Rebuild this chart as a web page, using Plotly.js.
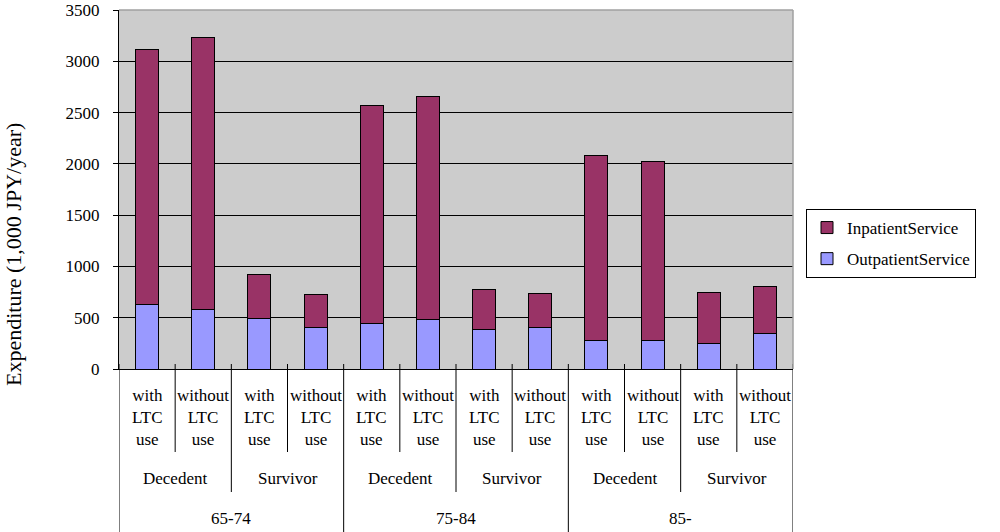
<!DOCTYPE html>
<html>
<head>
<meta charset="utf-8">
<script src="https://cdn.plot.ly/plotly-3.0.1.min.js"></script>
<style>html,body{margin:0;padding:0;background:#fff;}#chart{width:1000px;height:532px;}</style>
</head>
<body>
<div id="chart"></div>
<script>
// ---- data ----
var ageGroups = ['65-74', '75-84', '85-'];
var statusGroups = ['Decedent', 'Survivor'];
var ltcLabels = ['with<br>LTC<br>use', 'without<br>LTC<br>use'];
var outpatient = [633, 585, 494, 408, 440, 485, 382, 408, 276, 276, 247, 350];
var inpatient  = [2482, 2645, 428, 321, 2132, 2171, 395, 331, 1808, 1747, 501, 459];
var seriesNames = ['OutpatientService', 'InpatientService'];
var yTicks = [0, 500, 1000, 1500, 2000, 2500, 3000, 3500];

// ---- build ----
var FONT = 'Liberation Serif, Times New Roman, serif';
var TOP = 10, BOTTOM = 163;
var H = 532 - TOP - BOTTOM; // plot height in px, for pixel→paper conversions
function py(px) { return (369 - px) / H; }

var xIdx = outpatient.map(function (_, i) { return i; });

var traces = [
  { type: 'bar', name: seriesNames[0], legendgroup: 'g0', legendrank: 2, x: xIdx, y: outpatient,
    marker: { color: '#9999FF', line: { color: '#000', width: 1 } } },
  { type: 'bar', name: seriesNames[1], legendgroup: 'g1', legendrank: 1, x: xIdx, y: inpatient,
    marker: { color: '#993366', line: { color: '#000', width: 1 } } }
];

var annotations = [];
var shapes = [];
var n = xIdx.length;
var perAge = statusGroups.length * ltcLabels.length;

// LTC labels
xIdx.forEach(function (i) {
  annotations.push({ xref: 'x', yref: 'paper', x: i, y: py(417), text: ltcLabels[i % ltcLabels.length],
    showarrow: false, xanchor: 'center', yanchor: 'middle', font: { family: FONT, size: 17, color: '#000' } });
});
// status and age labels
for (var a = 0; a < ageGroups.length; a++) {
  for (var s = 0; s < statusGroups.length; s++) {
    var c = a * perAge + s * ltcLabels.length + (ltcLabels.length - 1) / 2;
    annotations.push({ xref: 'x', yref: 'paper', x: c, y: py(478), text: statusGroups[s],
      showarrow: false, xanchor: 'center', yanchor: 'middle', font: { family: FONT, size: 17, color: '#000' } });
  }
  annotations.push({ xref: 'x', yref: 'paper', x: a * perAge + (perAge - 1) / 2, y: py(518), text: ageGroups[a],
    showarrow: false, xanchor: 'center', yanchor: 'middle', font: { family: FONT, size: 17, color: '#000' } });
}
// y axis title
annotations.push({ xref: 'paper', yref: 'paper', x: (13 - 119) / 674, y: py(255), text: 'Expenditure (1,000 JPY/year)',
  textangle: -90, showarrow: false, xanchor: 'center', yanchor: 'middle', font: { family: FONT, size: 22, color: '#000' } });

// separator lines
for (var b = 0; b <= n; b++) {
  var bottom;
  if (b % perAge === 0) bottom = 540;
  else if (b % ltcLabels.length === 0) bottom = 492;
  else bottom = 452;
  shapes.push({ type: 'line', xref: 'x', yref: 'paper', x0: b - 0.5, x1: b - 0.5, y0: py(364), y1: py(bottom),
    line: { color: '#000', width: 1 } });
}
// top and right plot border (grey)
shapes.push({ type: 'line', xref: 'paper', yref: 'paper', x0: 0, x1: 1, y0: 1, y1: 1, line: { color: '#a0a0a0', width: 1.5 } });
shapes.push({ type: 'line', xref: 'paper', yref: 'paper', x0: 1, x1: 1, y0: 0, y1: 1, line: { color: '#a0a0a0', width: 1.5 } });

var layout = {
  width: 1000, height: 532,
  margin: { l: 119, r: 207, t: TOP, b: BOTTOM },
  paper_bgcolor: '#fff', plot_bgcolor: '#CCCCCC',
  barmode: 'stack', bargap: 0.59,
  font: { family: FONT, color: '#000' },
  showlegend: true,
  legend: { x: (806 - 119) / 674, y: py(209), xanchor: 'left', yanchor: 'top',
    bgcolor: '#fff', bordercolor: '#000', borderwidth: 1, tracegroupgap: 6,
    font: { family: FONT, size: 17, color: '#000' }, traceorder: 'grouped' },
  xaxis: { range: [-0.5, n - 0.5], showticklabels: false, showgrid: false, zeroline: false,
    showline: true, linecolor: '#000', linewidth: 1, ticks: '', fixedrange: true },
  yaxis: { range: [0, 3500.5], tickvals: yTicks, showgrid: true, gridcolor: '#000', gridwidth: 1,
    zeroline: false, showline: true, linecolor: '#000', linewidth: 1, ticks: 'outside', ticklen: 5,
    tickcolor: '#000', ticklabelstandoff: 10, ticklabeloverflow: 'allow',
    tickfont: { family: FONT, size: 17, color: '#000' }, fixedrange: true },
  annotations: annotations,
  shapes: shapes
};

Plotly.newPlot('chart', traces, layout, { displayModeBar: false, staticPlot: true });
</script>
</body>
</html>
